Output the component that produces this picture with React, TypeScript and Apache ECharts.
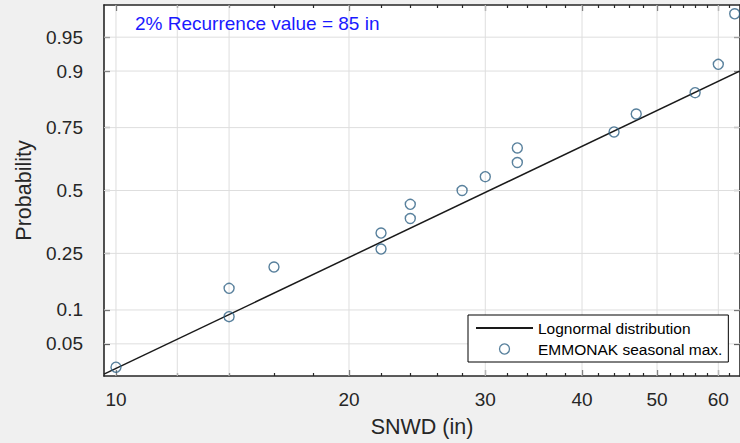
import React, { useEffect, useRef } from "react";
import * as echarts from "echarts";

// ---- data ----
const snwd = [10, 14, 14, 16, 22, 22, 24, 24, 28, 30, 33, 33, 44, 47, 56, 60, 63];
const prob = [0.029, 0.088, 0.147, 0.206, 0.265, 0.324, 0.382, 0.441, 0.5, 0.559, 0.618, 0.676, 0.735, 0.794, 0.853, 0.912, 0.971];
// fitted lognormal line, endpoints at the plot edges
const fitX = [9.65, 64.0];
const fitP = [0.0244, 0.9];
// axis ticks / limits
const xMajorTicks = [10, 20, 30, 40, 50, 60];
const xMinorTicks = [12, 14, 16, 18, 22, 24, 26, 28, 32, 34, 36, 38, 42, 44, 46, 48, 52, 54, 56, 58, 62];
const xGridTicks = [10, 12, 14, 20, 30, 40, 50, 60];
const yTickProbs = [0.05, 0.1, 0.25, 0.5, 0.75, 0.9, 0.95];
const yTickLabels = ["0.05", "0.1", "0.25", "0.5", "0.75", "0.9", "0.95"];
const xRange = [9.65, 64.0];
const pRange = [0.0233, 0.9767];
const titleText = "2% Recurrence value = 85 in";
const lineName = "Lognormal distribution";
const pointName = "EMMONAK seasonal max.";

// inverse standard normal CDF (Acklam)
function norminv(p: number): number {
  const a = [-3.969683028665376e1, 2.209460984245205e2, -2.759285104469687e2, 1.38357751867269e2, -3.066479806614716e1, 2.506628277459239];
  const b = [-5.447609879822406e1, 1.615858368580409e2, -1.556989798598866e2, 6.680131188771972e1, -1.328068155288572e1];
  const c = [-7.784894002430293e-3, -3.223964580411365e-1, -2.400758277161838, -2.549732539343734, 4.374664141464968, 2.938163982698783];
  const d = [7.784695709041462e-3, 3.224671290700398e-1, 2.445134137142996, 3.754408661907416];
  const plow = 0.02425;
  const phigh = 1 - plow;
  if (p < plow) {
    const q = Math.sqrt(-2 * Math.log(p));
    return (((((c[0] * q + c[1]) * q + c[2]) * q + c[3]) * q + c[4]) * q + c[5]) / ((((d[0] * q + d[1]) * q + d[2]) * q + d[3]) * q + 1);
  }
  if (p <= phigh) {
    const q = p - 0.5;
    const r = q * q;
    return ((((((a[0] * r + a[1]) * r + a[2]) * r + a[3]) * r + a[4]) * r + a[5]) * q) / (((((b[0] * r + b[1]) * r + b[2]) * r + b[3]) * r + b[4]) * r + 1);
  }
  const q = Math.sqrt(-2 * Math.log(1 - p));
  return -(((((c[0] * q + c[1]) * q + c[2]) * q + c[3]) * q + c[4]) * q + c[5]) / ((((d[0] * q + d[1]) * q + d[2]) * q + d[3]) * q + 1);
}

const lx = (v: number) => Math.log10(v);
const FONT = "'Liberation Sans', Arial, Helvetica, sans-serif";
const AXIS_COLOR = "#262626";
const MARKER_COLOR = "#2f6285";

export default function App() {
  const ref = useRef<HTMLDivElement>(null);
  useEffect(() => {
    if (!ref.current) return;
    const chart = echarts.init(ref.current, null, { renderer: "svg" });
    const xMin = lx(xRange[0]);
    const xMax = lx(xRange[1]);
    const zMin = norminv(pRange[0]);
    const zMax = norminv(pRange[1]);
    const yTickZ = yTickProbs.map(norminv);
    const xMajL = xMajorTicks.map(lx);
    const xMinL = xMinorTicks.map(lx);

    const baseX = {
      type: "value" as const,
      min: xMin,
      max: xMax,
      splitLine: { show: false },
    };
    const baseY = {
      type: "value" as const,
      min: zMin,
      max: zMax,
      splitLine: { show: false },
    };
    const tickLine = { color: AXIS_COLOR, width: 1.2 };

    const gridSeries: any[] = [];
    xGridTicks.forEach((g) => {
      gridSeries.push({
        type: "line",
        data: [
          [lx(g), zMin],
          [lx(g), zMax],
        ],
        symbol: "none",
        silent: true,
        z: 1,
        lineStyle: { color: "#dedede", width: 1 },
      });
    });
    yTickZ.forEach((z) => {
      gridSeries.push({
        type: "line",
        data: [
          [xMin, z],
          [xMax, z],
        ],
        symbol: "none",
        silent: true,
        z: 1,
        lineStyle: { color: "#dedede", width: 1 },
      });
    });

    chart.setOption({
      animation: false,
      backgroundColor: "#f0f0f0",
      textStyle: { fontFamily: FONT },
      grid: { left: 104, top: 5, right: 0, bottom: 66, show: true, backgroundColor: "#ffffff", borderWidth: 0 },
      xAxis: [
        {
          ...baseX,
          position: "bottom",
          axisLine: { show: true, onZero: false, lineStyle: { color: AXIS_COLOR, width: 1.6 } },
          axisTick: { show: true, inside: true, length: 6, customValues: xMajL, lineStyle: tickLine },
          axisLabel: {
            show: true,
            customValues: xMajL,
            formatter: (v: number) => String(Math.round(Math.pow(10, v))),
            fontSize: 19,
            color: AXIS_COLOR,
            margin: 14,
            fontFamily: FONT,
          },
          name: "SNWD (in)",
          nameLocation: "middle",
          nameGap: 40,
          nameTextStyle: { fontSize: 21.5, color: AXIS_COLOR, fontFamily: FONT },
        },
        {
          ...baseX,
          position: "bottom",
          axisLine: { show: false, onZero: false },
          axisTick: { show: true, inside: true, length: 3, customValues: xMinL, lineStyle: tickLine },
          axisLabel: { show: false },
        },
        {
          ...baseX,
          position: "top",
          axisLine: { show: true, onZero: false, lineStyle: { color: AXIS_COLOR, width: 1.6 } },
          axisTick: { show: true, inside: true, length: 6, customValues: xMajL, lineStyle: tickLine },
          axisLabel: { show: false },
        },
        {
          ...baseX,
          position: "top",
          axisLine: { show: false, onZero: false },
          axisTick: { show: true, inside: true, length: 3, customValues: xMinL, lineStyle: tickLine },
          axisLabel: { show: false },
        },
      ],
      yAxis: [
        {
          ...baseY,
          position: "left",
          axisLine: { show: true, onZero: false, lineStyle: { color: AXIS_COLOR, width: 1.6 } },
          axisTick: { show: true, inside: true, length: 6, customValues: yTickZ, lineStyle: tickLine },
          axisLabel: {
            show: true,
            customValues: yTickZ,
            formatter: (v: number) => {
              let best = 0;
              for (let i = 1; i < yTickZ.length; i++) {
                if (Math.abs(yTickZ[i] - v) < Math.abs(yTickZ[best] - v)) best = i;
              }
              return yTickLabels[best];
            },
            fontSize: 19,
            color: AXIS_COLOR,
            margin: 21,
            fontFamily: FONT,
          },
          name: "Probability",
          nameLocation: "middle",
          nameGap: 66,
          nameTextStyle: { fontSize: 21.5, color: AXIS_COLOR, fontFamily: FONT },
        },
        {
          ...baseY,
          position: "right",
          axisLine: { show: true, onZero: false, lineStyle: { color: AXIS_COLOR, width: 1.6 } },
          axisTick: { show: true, inside: true, length: 6, customValues: yTickZ, lineStyle: tickLine },
          axisLabel: { show: false },
        },
      ],
      legend: {
        orient: "vertical",
        left: 468,
        top: 315,
        padding: [2.5, 6, 2.5, 7],
        itemWidth: 57,
        itemHeight: 10,
        itemGap: 0,
        borderColor: "#000",
        borderWidth: 1,
        backgroundColor: "#ffffff",
        selectedMode: false,
        textStyle: { fontSize: 15.5, color: "#000", lineHeight: 21, fontFamily: FONT },
        data: [
          { name: lineName, itemStyle: { opacity: 0 } },
          { name: pointName, itemStyle: { borderWidth: 1.3 } },
        ],
      },
      graphic: [
        {
          type: "text",
          x: 135,
          y: 23,
          z: 10,
          style: {
            text: titleText,
            fontSize: 19,
            fontFamily: FONT,
            fill: "#1a1aff",
            verticalAlign: "middle",
            align: "left",
          },
        },
      ],
      series: [
        ...gridSeries,
        {
          name: lineName,
          type: "line",
          data: fitX.map((x, i) => [lx(x), norminv(fitP[i])]),
          symbol: "none",
          z: 3,
          itemStyle: { color: "rgba(0,0,0,0)", borderColor: "rgba(0,0,0,0)", borderWidth: 0 },
          lineStyle: { color: "#1a1a1a", width: 1.5 },
        },
        {
          name: pointName,
          type: "scatter",
          data: snwd.map((x, i) => [lx(x), norminv(prob[i])]),
          symbol: "circle",
          symbolSize: 10,
          z: 4,
          itemStyle: { color: "rgba(0,0,0,0)", borderColor: MARKER_COLOR, borderWidth: 1.4 },
        },
      ],
    });
    return () => chart.dispose();
  }, []);
  return (
    <div
      ref={ref}
      style={{ position: "absolute", left: 0, top: 0, width: 740, height: 443, background: "#f0f0f0" }}
    />
  );
}
